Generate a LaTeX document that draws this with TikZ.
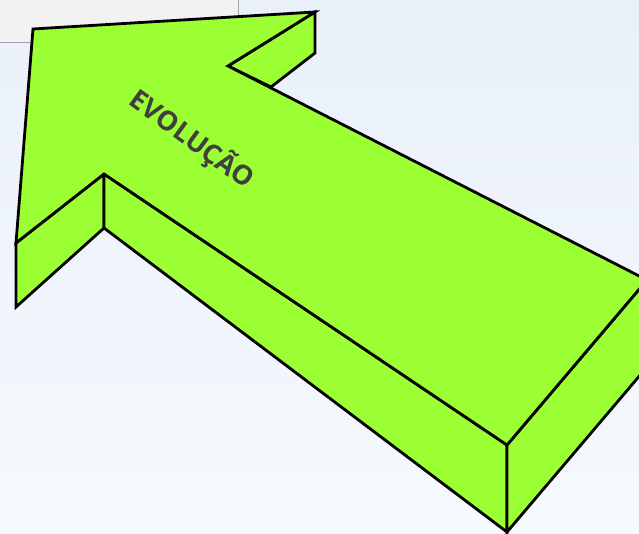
\documentclass[tikz,border=0pt]{standalone}
\usepackage{fontspec}
\setmainfont{Open Sans}
\definecolor{bgtop}{HTML}{E9F0FA}
\definecolor{bgbot}{HTML}{F6F9FD}
\definecolor{arrowgreen}{HTML}{9BFF33}
\definecolor{boxgray}{HTML}{F2F2F2}
\definecolor{txtgray}{HTML}{3F3F3F}
\tikzset{
  face/.style={fill=arrowgreen, draw=black, line width=2.8pt, line join=miter},
  lbl/.style={text=txtgray, font=\bfseries\fontsize{27}{29}\selectfont, inner sep=0pt}
}
\begin{document}
\begin{tikzpicture}[x=1pt,y=-1pt]
\useasboundingbox (0,0) rectangle (639,534);
\shade[top color=bgtop, bottom color=bgbot] (0,0) rectangle (639,534);
\fill[boxgray] (0,0) rectangle (238,42);
\draw[gray!70, line width=0.8pt] (238,0) -- (238,42) -- (0,42);
\begin{scope}
\clip (0,0) rectangle (639,534);
\coordinate (A) at (33,29);
\coordinate (B) at (315,12);
\coordinate (Bd) at (315,53);
\coordinate (G) at (271,87);
\coordinate (C) at (228,66);
\coordinate (R) at (647,280);
\coordinate (Rd) at (647,367);
\coordinate (D) at (507,445);
\coordinate (Dd) at (507,532);
\coordinate (E) at (104,174);
\coordinate (Ed) at (104,228);
\coordinate (F) at (16,243);
\coordinate (Fd) at (16,307);
\draw[face] (B) -- (Bd) -- (G) -- (C) -- cycle;
\draw[face] (F) -- (E) -- (Ed) -- (Fd) -- cycle;
\draw[face] (E) -- (D) -- (Dd) -- (Ed) -- cycle;
\draw[face] (D) -- (R) -- (Rd) -- (Dd) -- cycle;
\draw[face] (A) -- (B) -- (C) -- (R) -- (D) -- (E) -- (F) -- cycle;
\end{scope}
\node[lbl, rotate=-36] (t) at (192,139) {EVOLUÇÃO};
\end{tikzpicture}
\end{document}
